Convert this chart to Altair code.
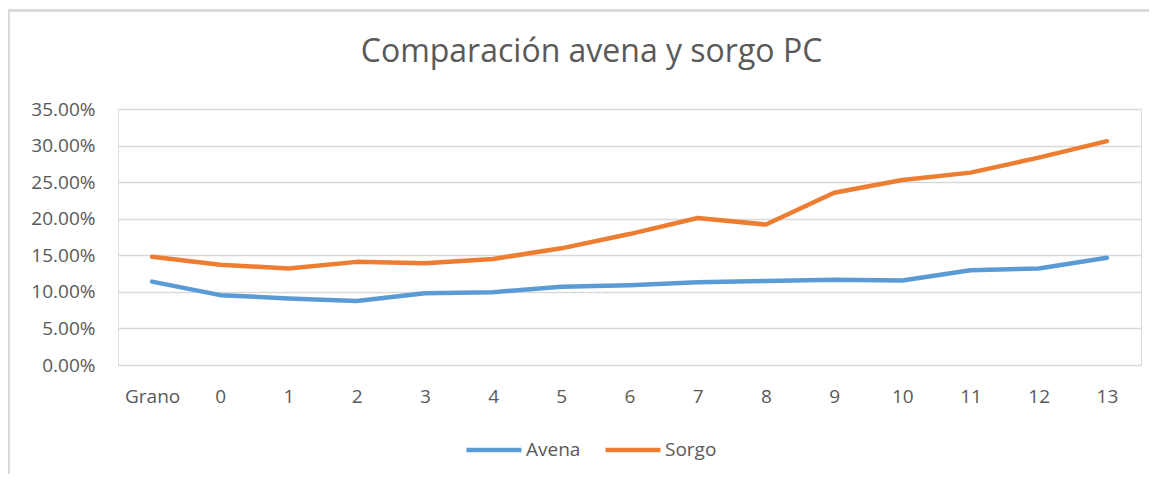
import altair as alt
import pandas as pd

categories = ["Grano", "0", "1", "2", "3", "4", "5", "6", "7", "8", "9", "10", "11", "12", "13"]
avena = [0.1140, 0.0955, 0.0910, 0.0875, 0.0980, 0.0995, 0.1070, 0.1090, 0.1130, 0.1150, 0.1165, 0.1155, 0.1295, 0.1320, 0.1465]
sorgo = [0.1480, 0.1370, 0.1320, 0.1410, 0.1390, 0.1450, 0.1595, 0.1790, 0.2010, 0.1920, 0.2355, 0.2530, 0.2630, 0.2835, 0.3060]
series_names = ["Avena", "Sorgo"]
series_colors = ["#5B9BD5", "#ED7D31"]
y_ticks = [0, 0.05, 0.10, 0.15, 0.20, 0.25, 0.30, 0.35]

rows = []
for name, vals in zip(series_names, [avena, sorgo]):
    for i, (c, v) in enumerate(zip(categories, vals)):
        rows.append({"Categoria": c, "Serie": name, "Valor": v, "orden": i})
df = pd.DataFrame(rows)

FONT = "Open Sans"
TXT = "#595959"
W, H = 1023, 256

lines = alt.Chart(df).mark_line(strokeWidth=4.5, strokeCap="round", strokeJoin="round").encode(
    x=alt.X("Categoria:N", sort=categories, title=None,
            scale=alt.Scale(type="point", padding=0.5),
            axis=alt.Axis(labelAngle=0, ticks=False, domain=False, grid=False,
                          labelPadding=22, labelFont=FONT, labelFontSize=19, labelColor=TXT)),
    y=alt.Y("Valor:Q", title=None,
            scale=alt.Scale(domain=[0, 0.35], nice=False, zero=True),
            axis=alt.Axis(values=y_ticks, format=".2%", ticks=False, domain=False,
                          gridColor="#D9D9D9", gridWidth=1.5, labelPadding=23,
                          labelFont=FONT, labelFontSize=19, labelColor=TXT)),
    color=alt.Color("Serie:N", title=None,
                    scale=alt.Scale(domain=series_names, range=series_colors),
                    legend=alt.Legend(orient="none", legendX=346, legendY=311, direction="horizontal",
                                      symbolType="stroke", symbolSize=3025, symbolStrokeWidth=4.5,
                                      labelFont=FONT, labelFontSize=19, labelColor=TXT,
                                      labelOffset=2, columnPadding=15)),
    order="orden:Q",
)

border_left = alt.Chart(df).mark_rule(color="#D9D9D9", strokeWidth=1.5).encode(
    x=alt.value(-109.5), y=alt.value(-98.5), y2=alt.value(H + 109)
)
border_top = alt.Chart(df).mark_rule(color="#D9D9D9", strokeWidth=1.5).encode(
    x=alt.value(-110), x2=alt.value(W + 8), y=alt.value(-98.5)
)

chart = alt.layer(border_left, border_top, lines).properties(
    width=W, height=H,
    title=alt.TitleParams("Comparación avena y sorgo PC", font=FONT, fontSize=32, fontWeight="normal",
                          color=TXT, anchor="middle", frame="group", baseline="alphabetic",
                          offset=0, dy=84, dx=-38),
    autosize=alt.AutoSizeParams(type="none"),
    padding={"left": 110, "top": 101, "right": 8, "bottom": 109},
).configure_view(stroke=None).configure(background="white")

chart.save("out.html", embed_options={"renderer": "svg", "actions": False})
